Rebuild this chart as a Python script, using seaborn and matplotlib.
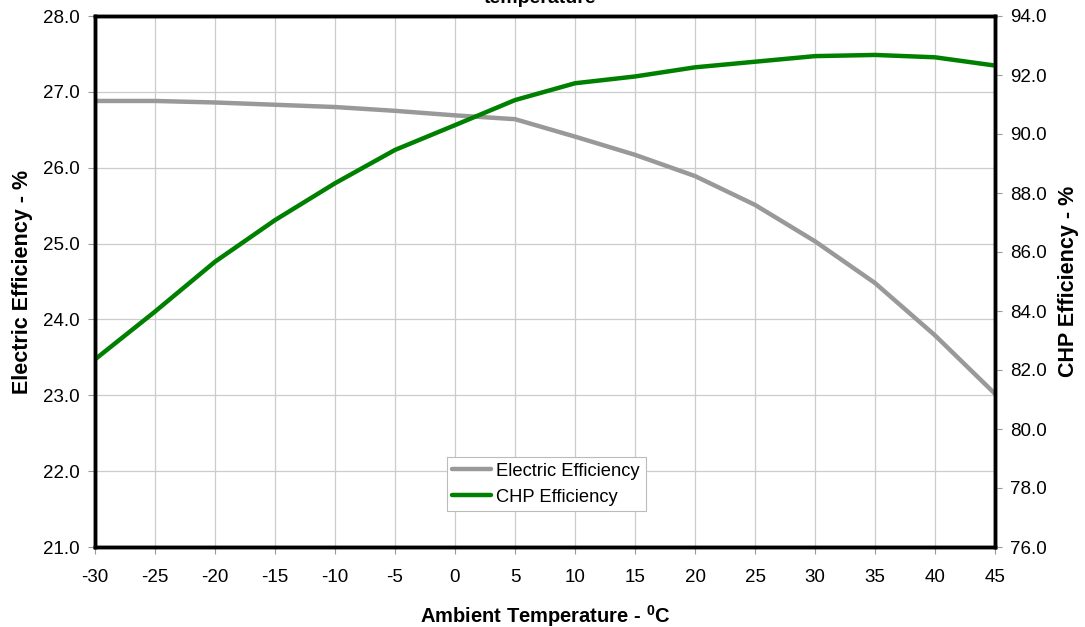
import pandas as pd
import matplotlib.pyplot as plt
import seaborn as sns

temps = [-30, -25, -20, -15, -10, -5, 0, 5, 10, 15, 20, 25, 30, 35, 40, 45]
electric_eff = [26.88, 26.88, 26.86, 26.83, 26.80, 26.75, 26.69, 26.64, 26.41, 26.17,
                25.89, 25.51, 25.03, 24.48, 23.79, 23.02]
chp_eff = [82.36, 83.98, 85.67, 87.08, 88.33, 89.46, 90.30, 91.15, 91.72, 91.95,
           92.26, 92.45, 92.64, 92.68, 92.60, 92.32]

df = pd.DataFrame({"Temp": temps, "Electric": electric_eff, "CHP": chp_eff})

sns.set_style("white")
plt.rcParams["font.family"] = ["Liberation Sans", "DejaVu Sans"]
plt.rcParams["mathtext.fontset"] = "custom"
plt.rcParams["mathtext.rm"] = "Liberation Sans:bold"
plt.rcParams["mathtext.default"] = "rm"
plt.rcParams["axes.unicode_minus"] = False
plt.rcParams["text.color"] = "black"
plt.rcParams["axes.labelcolor"] = "black"
plt.rcParams["xtick.labelcolor"] = "black"
plt.rcParams["ytick.labelcolor"] = "black"

fig = plt.figure(figsize=(10.85, 6.27), dpi=100)
ax = fig.add_axes([95 / 1085, 1 - 547 / 627, 900 / 1085, 531 / 627])
ax2 = ax.twinx()

sns.lineplot(data=df, x="Temp", y="Electric", ax=ax, color="#999999", linewidth=3.2,
             label="Electric Efficiency", legend=False)
sns.lineplot(data=df, x="Temp", y="CHP", ax=ax2, color="#008000", linewidth=3.2,
             label="CHP Efficiency", legend=False)

ax.set_xlim(-30, 45)
ax.set_ylim(21, 28)
ax2.set_ylim(76, 94)
ax.set_xticks(range(-30, 50, 5))
ax.set_yticks([21, 22, 23, 24, 25, 26, 27, 28])
ax2.set_yticks(range(76, 96, 2))
ax.set_yticklabels([f"{v:.1f}" for v in range(21, 29)])
ax2.set_yticklabels([f"{v:.1f}" for v in range(76, 96, 2)])

ax.grid(True, color="#cccccc", linewidth=0.9)
for a in (ax, ax2):
    for s in a.spines.values():
        s.set_color("black")
        s.set_linewidth(2.5)
    a.tick_params(labelsize=13.5, length=5, width=0.8, color="#999999", direction="out",
                  pad=6, labelcolor="black")
ax.tick_params(left=True, bottom=True)
ax2.tick_params(right=True)
ax.tick_params(axis="x", pad=11)

ax.set_xlabel(r"Ambient Temperature - $^0$C", fontsize=14.5, fontweight="bold", labelpad=12)
ax.set_ylabel("Electric Efficiency - %", fontsize=15.5, fontweight="bold", labelpad=7)
ax2.set_ylabel("CHP Efficiency - %", fontsize=15.5, fontweight="bold", labelpad=8)

h1, l1 = ax.get_legend_handles_labels()
h2, l2 = ax2.get_legend_handles_labels()
leg = ax2.legend(h1 + h2, l1 + l2, loc="upper left", bbox_to_anchor=(352 / 900, 90 / 531),
                 borderaxespad=0, fontsize=13.2, frameon=True, fancybox=False,
                 framealpha=1, edgecolor="#bbbbbb", handlelength=2.1, borderpad=0.3,
                 labelspacing=0.5, handletextpad=0.3)
leg.get_frame().set_linewidth(0.8)

fig.text(540 / 1085, 1 - 3 / 627, "temperature", ha="center", va="baseline",
         fontsize=14, fontweight="bold")

fig.savefig("out.png", dpi=100)
